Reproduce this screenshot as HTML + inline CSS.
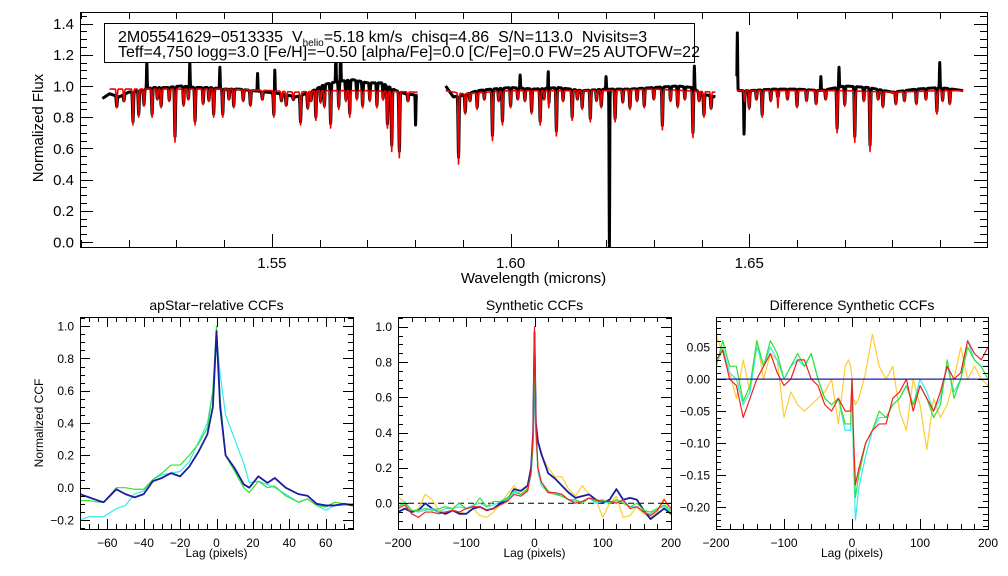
<!DOCTYPE html>
<html><head><meta charset="utf-8"><style>
html,body{margin:0;padding:0;background:#fff}
svg{display:block}
text{font-family:"Liberation Sans",Arial,sans-serif;fill:#000}
</style></head><body>
<svg id="fig" xmlns="http://www.w3.org/2000/svg" width="1008" height="576" viewBox="0 0 1008 576">
<rect width="1008" height="576" fill="#fff"/>
<g id="g-top"></g>
<g id="g-p1"></g>
<g id="g-p2"></g>
<g id="g-p3"></g>
<g>
<rect x="104.5" y="23.5" width="590" height="39" fill="#fff" stroke="#000" stroke-width="1"/>
<text x="118" y="42" font-size="16" xml:space="preserve">2M05541629−0513335  V<tspan font-size="10" dy="4">helio</tspan><tspan dy="-4">=5.18 km/s  chisq=4.86  S/N=113.0  Nvisits=3</tspan></text>
<text x="118" y="57" font-size="16" xml:space="preserve">Teff=4,750 logg=3.0 [Fe/H]=−0.50 [alpha/Fe]=0.0 [C/Fe]=0.0 FW=25 AUTOFW=22</text>
</g>
</svg>
<script>
// ---- Spectrum data ----
const blackSeg1W=[1.5145,1.516,1.518,1.520,1.522,1.525,1.528,1.531,1.534,1.537,1.540,1.543,1.546,1.549,1.552,1.555,1.558,1.561,1.564,1.567,1.570,1.573,1.576,1.578,1.5805];
const blackSeg1F=[0.92,0.95,0.93,0.96,0.97,0.99,0.99,1.00,0.99,0.99,0.98,0.98,0.97,0.96,0.95,0.93,0.96,1.01,1.03,1.04,1.02,1.02,0.97,0.95,0.94];
const blackSeg2W=[1.5864,1.588,1.590,1.593,1.596,1.600,1.605,1.610,1.615,1.620,1.625,1.630,1.635,1.638,1.640,1.6429];
const blackSeg2F=[1.00,0.93,0.94,0.97,0.98,0.99,0.98,0.99,0.97,0.98,0.98,0.99,1.00,0.99,0.95,0.93];
const blackSeg3W=[1.6474,1.650,1.655,1.660,1.665,1.670,1.675,1.680,1.685,1.690,1.6948];
const blackSeg3F=[0.97,0.97,0.98,0.98,0.97,1.00,0.99,0.96,0.98,0.99,0.97];
const redSeg1W=[1.516,1.520,1.530,1.540,1.550,1.555,1.560,1.570,1.5805];
const redSeg1F=[0.98,0.98,0.98,0.98,0.97,0.96,0.97,0.97,0.96];
const redSeg2W=[1.5864,1.590,1.600,1.610,1.620,1.630,1.6429];
const redSeg2F=[0.97,0.95,0.97,0.97,0.97,0.98,0.96];
const redSeg3W=[1.6474,1.660,1.670,1.680,1.690,1.6948];
const redSeg3F=[0.97,0.97,0.97,0.96,0.97,0.97];
const lineW=[1.5209,1.5221,1.5249,1.5297,1.5339,1.5378,1.5397,1.5504,1.5560,1.5592,1.5623,1.5663,1.5742,1.5751,1.5767,1.5891,1.5962,1.5983,1.6044,1.6062,1.6096,1.6129,1.6167,1.6219,1.6318,1.6382,1.6405,1.6527,1.6684,1.6721,1.6753,1.6807,1.6893,
 1.5175,1.5232,1.5268,1.5315,1.5356,1.5420,1.5455,1.5530,1.5575,1.5610,1.5640,1.5690,1.5720,1.5905,1.5930,1.6000,1.6080,1.6150,1.6190,1.6250,1.6280,1.6350,1.6420,1.6500,1.6560,1.6600,1.6640,1.6700,1.6780,1.6850,1.6920,
 1.5190,1.5260,1.5285,1.5325,1.5368,1.5410,1.5440,1.5480,1.5520,1.5545,1.5582,1.5602,1.5655,1.5678,1.5705,1.5733,1.5785,1.5915,1.5945,1.5975,1.6015,1.6030,1.6070,1.6110,1.6140,1.6180,1.6235,1.6265,1.6300,1.6335,1.6365,1.6395,1.6490,1.6515,1.6545,1.6580,1.6620,1.6660,1.6740,1.6770,1.6825,1.6870,1.6905];
const lineF=[0.75,0.80,0.80,0.64,0.75,0.80,0.80,0.80,0.75,0.78,0.73,0.80,0.73,0.58,0.54,0.50,0.65,0.75,0.82,0.75,0.68,0.78,0.77,0.77,0.72,0.67,0.80,0.80,0.70,0.64,0.58,0.88,0.82,
 0.86,0.87,0.86,0.87,0.88,0.86,0.87,0.87,0.85,0.86,0.85,0.86,0.86,0.82,0.85,0.86,0.86,0.85,0.86,0.85,0.86,0.86,0.85,0.85,0.86,0.86,0.88,0.87,0.86,0.88,0.88,
 0.90,0.91,0.90,0.91,0.90,0.91,0.90,0.91,0.90,0.91,0.90,0.89,0.90,0.91,0.90,0.91,0.90,0.90,0.91,0.90,0.91,0.90,0.91,0.90,0.91,0.90,0.89,0.90,0.91,0.90,0.91,0.90,0.90,0.91,0.90,0.91,0.90,0.91,0.90,0.91,0.90,0.91,0.90];
const spikeW=[1.5238,1.5328,1.5391,1.5506,1.5634,1.5644,1.6079,1.6385,1.6475,1.6688,1.6899,1.5470,1.6020,1.6200,1.6560,1.6650];
const spikeF=[1.16,1.16,1.12,1.12,1.20,1.27,1.16,1.13,1.34,1.12,1.15,1.08,1.07,1.06,1.06,1.06];
const deepW=[1.6207,1.5801,1.6489];
const deepF=[-0.05,0.75,0.73];
const topXTicks=[1.55,1.60,1.65];
const topYTicks=[0.0,0.2,0.4,0.6,0.8,1.0,1.2,1.4];

// ---- CCF data ----
const lags1=[-75,-70,-65,-62,-55,-50,-45,-40,-35,-30,-25,-20,-15,-10,-5,-2,0,2,5,10,15,18,23,28,32,38,45,50,55,60,65,70,75];
const ccfNavy1=[-0.04,-0.06,-0.08,-0.09,-0.01,-0.04,-0.06,-0.04,0.04,0.06,0.09,0.07,0.13,0.22,0.33,0.50,0.97,0.50,0.20,0.12,0.02,0.00,0.07,0.03,0.06,0.00,-0.04,-0.05,-0.10,-0.11,-0.11,-0.10,-0.11];
const ccfGreen1=[-0.08,-0.08,-0.09,-0.09,0.00,0.00,-0.01,-0.01,0.05,0.09,0.14,0.14,0.20,0.27,0.37,0.60,1.00,0.55,0.20,0.10,0.00,-0.03,0.04,0.00,0.01,-0.05,-0.09,-0.07,-0.11,-0.12,-0.09,-0.10,-0.10];
const ccfCyan1=[-0.20,-0.18,-0.18,-0.18,-0.13,-0.11,-0.04,-0.02,0.05,0.08,0.09,0.10,0.16,0.28,0.40,0.60,0.95,0.70,0.45,0.30,0.15,0.03,0.04,0.02,0.00,-0.04,-0.09,-0.07,-0.11,-0.14,-0.11,-0.11,-0.10];
const lags2=[-200,-190,-180,-170,-160,-150,-140,-130,-120,-110,-100,-90,-80,-70,-60,-50,-40,-30,-20,-10,-5,-2,0,2,5,10,20,30,40,50,60,70,80,90,100,110,120,130,140,150,160,170,180,190,200];
const synNavy=[-0.05,-0.03,-0.05,-0.04,0.00,-0.03,-0.05,-0.06,-0.04,-0.06,-0.06,-0.03,-0.02,-0.04,-0.03,0.00,0.02,0.08,0.07,0.10,0.20,0.40,0.97,0.45,0.35,0.28,0.17,0.14,0.10,0.06,0.03,0.04,0.05,0.02,0.00,0.02,0.08,0.02,0.03,0.02,-0.04,-0.09,-0.06,-0.03,-0.06];
const synGreen=[-0.02,0.00,-0.04,-0.04,-0.03,-0.04,-0.03,-0.02,-0.03,0.00,-0.03,-0.02,0.03,-0.02,0.01,0.01,0.03,0.07,0.05,0.08,0.17,0.35,0.90,0.40,0.20,0.12,0.07,0.05,0.04,0.02,0.02,0.00,0.03,0.01,0.02,0.00,0.02,0.00,-0.02,0.00,-0.04,-0.05,-0.03,-0.01,-0.04];
const synCyan=[-0.02,0.01,-0.04,-0.05,-0.04,-0.03,-0.05,-0.03,-0.03,-0.02,-0.03,-0.01,0.00,-0.02,-0.01,0.01,0.02,0.06,0.05,0.08,0.16,0.33,0.92,0.40,0.18,0.10,0.06,0.05,0.05,0.02,0.01,0.00,0.03,0.00,0.01,0.00,0.01,0.01,-0.02,-0.02,-0.05,-0.06,-0.03,-0.02,-0.05];
const synRed=[-0.03,-0.01,-0.06,-0.08,-0.05,-0.05,-0.06,-0.05,-0.04,-0.05,-0.03,-0.02,-0.02,-0.04,-0.03,-0.01,0.01,0.05,0.04,0.07,0.18,0.40,1.00,0.45,0.20,0.12,0.06,0.06,0.05,0.02,0.00,0.01,0.03,0.02,0.01,0.01,0.00,0.02,-0.03,-0.02,-0.05,-0.07,-0.04,0.02,-0.03];
const synGold=[0.04,0.00,-0.05,-0.03,0.05,0.02,-0.04,-0.05,-0.04,-0.05,-0.06,-0.03,-0.07,-0.08,-0.05,0.00,0.05,0.10,0.05,0.09,0.20,0.40,0.98,0.50,0.35,0.27,0.20,0.15,0.15,0.08,0.04,0.10,0.05,0.02,-0.08,0.00,0.04,-0.08,-0.07,-0.02,-0.06,-0.08,-0.05,0.03,-0.07];
const difNavy=[0,0,0,0,0,0,0,0,0,0,0,0,0,0,0,0,0,0,0,0,0,0,0,0,0,0,0,0,0,0,0,0,0,0,0,0,0,0,0,0,0,0,0,0,0];
const difRed=[0.03,0.045,0.00,-0.01,-0.06,-0.03,0.00,0.02,0.04,0.01,-0.01,0.00,0.03,0.03,0.00,-0.01,-0.04,-0.05,-0.03,-0.05,-0.05,-0.05,0.00,-0.08,-0.165,-0.14,-0.10,-0.08,-0.07,-0.07,-0.03,-0.02,0.00,-0.05,-0.01,-0.03,-0.05,-0.02,0.02,0.00,0.01,0.06,0.04,0.03,0.05];
const difGreen=[0.02,0.06,0.02,0.02,-0.035,-0.01,0.06,0.02,0.06,0.04,0.00,0.02,0.04,0.02,0.04,0.00,-0.03,-0.04,-0.03,-0.07,-0.07,-0.07,0.00,-0.10,-0.185,-0.15,-0.10,-0.08,-0.05,-0.06,-0.04,-0.03,-0.01,-0.04,-0.01,-0.03,-0.06,-0.04,0.03,-0.03,0.00,0.05,0.03,0.02,0.00];
const difCyan=[0.02,0.05,0.01,0.00,-0.04,-0.02,0.05,0.02,0.05,0.03,0.00,0.02,0.03,0.02,0.04,0.00,-0.03,-0.04,-0.03,-0.08,-0.08,-0.08,0.00,-0.12,-0.22,-0.17,-0.12,-0.08,-0.06,-0.06,-0.04,-0.03,-0.01,-0.04,0.00,-0.02,-0.05,-0.03,0.02,-0.02,0.00,0.06,0.03,0.02,0.02];
const difGold=[0.07,0.04,0.01,-0.03,0.03,-0.02,0.06,0.00,0.04,0.03,-0.06,-0.02,-0.04,-0.05,-0.04,-0.03,-0.02,0.00,-0.07,0.02,0.03,0.02,0.00,-0.03,-0.04,-0.03,0.01,0.07,0.02,0.00,0.02,-0.05,-0.08,0.00,-0.04,-0.11,-0.03,-0.06,-0.04,0.00,0.05,0.00,0.02,0.00,-0.01];

const NS="http://www.w3.org/2000/svg";
function mk(parent,tag,attrs){const e=document.createElementNS(NS,tag);for(const k in attrs)e.setAttribute(k,attrs[k]);parent.appendChild(e);return e;}
function scale(d0,d1,r0,r1){return v=>r0+(v-d0)/(d1-d0)*(r1-r0);}

function axes(g,P,xs,ys,xMaj,xMin,yMaj,yMin,xFmt,yFmt,fs,majLen,minLen){
  const frame=mk(g,'rect',{x:P.l+0.5,y:P.t+0.5,width:P.r-P.l,height:P.b-P.t,fill:'none',stroke:'#000','stroke-width':1});
  
  
  let d='';
  for(let v=Math.ceil(P.x0/xMin-1e-6)*xMin;v<=P.x1+1e-9;v+=xMin){const X=Math.round(xs(v))+0.5;const isMaj=Math.abs(v/xMaj-Math.round(v/xMaj))<1e-6;const L=isMaj?majLen:minLen;d+=`M${X},${P.b}v${-L}M${X},${P.t}v${L}`;}
  for(let v=Math.ceil(P.y0/yMin-1e-6)*yMin;v<=P.y1+1e-9;v+=yMin){const Y=Math.round(ys(v))+0.5;const isMaj=Math.abs(v/yMaj-Math.round(v/yMaj))<1e-6;const L=isMaj?majLen:minLen;d+=`M${P.l},${Y}h${L}M${P.r},${Y}h${-L}`;}
  const t=mk(g,'path',{d:d,stroke:'#000','stroke-width':1,fill:'none'});
  
  
  P.xTicks.forEach(v=>{const e=mk(g,'text',{x:xs(v),y:P.b+fs+6,'font-size':fs,'text-anchor':'middle'});e.textContent=xFmt(v);
    
    });
  P.yTicks.forEach(v=>{const e=mk(g,'text',{x:P.l-6,y:ys(v)+fs*0.36,'font-size':fs,'text-anchor':'end'});e.textContent=yFmt(v);
    
    });
}
function pline(g,xsArr,ysArr,xs,ys,color,w,name,dash){
  let d='';for(let i=0;i<Math.min(xsArr.length,ysArr.length);i++){d+=(i?'L':'M')+xs(xsArr[i]).toFixed(2)+','+ys(ysArr[i]).toFixed(2);}
  const a={d:d,stroke:color,'stroke-width':w,fill:'none','stroke-linejoin':'round'};if(dash)a['stroke-dasharray']=dash;
  const e=mk(g,'path',a);
  
  
  return e;
}
function interp(W,F,w){if(w<=W[0])return F[0];for(let i=1;i<W.length;i++){if(w<=W[i]){const t=(w-W[i-1])/(W[i]-W[i-1]);return F[i-1]+t*(F[i]-F[i-1]);}}return F[F.length-1];}
function synth(W,F,scaleDepth,withSpikes){
  const xw=[],yf=[];
  for(let w=W[0];w<=W[W.length-1]+1e-9;w+=0.00005){
    const c=interp(W,F,w);let f=c;
    for(let i=0;i<lineW.length;i++){const dd=(w-lineW[i])/0.0001;if(Math.abs(dd)<4)f-=(c-lineF[i])*scaleDepth*Math.exp(-dd*dd/2);}
    if(withSpikes){
      for(let i=0;i<spikeW.length;i++){const dd=(w-spikeW[i])/0.00006;if(Math.abs(dd)<4)f+=(spikeF[i]-c)*Math.exp(-dd*dd/2);}
      for(let i=0;i<deepW.length;i++){const dd=(w-deepW[i])/0.00006;if(Math.abs(dd)<4)f-=(c-deepF[i])*Math.exp(-dd*dd/2);}
    }
    xw.push(w);yf.push(f);
  }
  return [xw,yf];
}

// ---- Top panel ----
(function(){
  const g=document.getElementById('g-top');
  const P={l:80,r:987,t:12,b:247,x0:1.5098,x1:1.6998,y0:-0.032,y1:1.474,xTicks:topXTicks,yTicks:topYTicks};
  const xs=scale(P.x0,P.x1,P.l,P.r), ys=scale(P.y0,P.y1,P.b,P.t);
  const clip=mk(g,'clipPath',{id:'ctop'});mk(clip,'rect',{x:P.l,y:P.t,width:P.r-P.l,height:P.b-P.t});
  const dg=mk(g,'g',{'clip-path':'url(#ctop)'});
  [[blackSeg1W,blackSeg1F],[blackSeg2W,blackSeg2F],[blackSeg3W,blackSeg3F]].forEach(s=>{const r=synth(s[0],s[1],0.9,true);pline(dg,r[0],r[1],xs,ys,'#000',3,'observed-spectrum');});
  [[redSeg1W,redSeg1F],[redSeg2W,redSeg2F],[redSeg3W,redSeg3F]].forEach(s=>{const r=synth(s[0],s[1],1.0,false);pline(dg,r[0],r[1],xs,ys,'#ee0000',1.6,'model-spectrum');});
  axes(g,P,xs,ys,0.05,0.01,0.2,0.05,v=>v.toFixed(2),v=>v.toFixed(1),15,13,7);
  const xt=mk(g,'text',{x:(P.l+P.r)/2,y:283,'font-size':15,'text-anchor':'middle'});xt.textContent='Wavelength (microns)';
  
  
  const yt=mk(g,'text',{x:0,y:0,'font-size':15,'text-anchor':'middle',transform:'translate(43,128) rotate(-90)'});yt.textContent='Normalized Flux';
  
  
})();

// ---- bottom panels ----
function panel(id,P,title,series,xMaj,xMin,yMaj,yMin,yFmt,ylabel,zeroLine){
  const g=document.getElementById(id);
  const xs=scale(P.x0,P.x1,P.l,P.r), ys=scale(P.y0,P.y1,P.b,P.t);
  const clip=mk(g,'clipPath',{id:'c'+id});mk(clip,'rect',{x:P.l,y:P.t,width:P.r-P.l,height:P.b-P.t});
  const dg=mk(g,'g',{'clip-path':'url(#c'+id+')'});
  if(zeroLine){pline(dg,[P.x0,P.x1],[0,0],xs,ys,'#000',1,'zero-line','6,4');}
  series.forEach(s=>pline(dg,s.x,s.y,xs,ys,s.c,s.w||1.2,s.n));
  axes(g,P,xs,ys,xMaj,xMin,yMaj,yMin,v=>String(Math.round(v)).replace('-','−'),yFmt,12,10,5);
  const tt=mk(g,'text',{x:(P.l+P.r)/2,y:310,'font-size':14,'text-anchor':'middle'});tt.textContent=title;
  
  
  const xt=mk(g,'text',{x:(P.l+P.r)/2,y:557,'font-size':12,'text-anchor':'middle'});xt.textContent='Lag (pixels)';
  
  
  if(ylabel){const yt=mk(g,'text',{x:0,y:0,'font-size':12,'text-anchor':'middle',transform:'translate(43,423) rotate(-90)'});yt.textContent=ylabel;
    
    }
}
const NAVY='#1c1ca0',GREEN='#33e033',CYAN='#33eaea',RED='#ee2222',GOLD='#ffcc33';
const f1=v=>v.toFixed(1).replace('-','−');
panel('g-p1',{l:80,r:353,t:317,b:529,x0:-75,x1:75,y0:-0.256,y1:1.057,xTicks:[-60,-40,-20,0,20,40,60],yTicks:[-0.2,0,0.2,0.4,0.6,0.8,1.0]},
 'apStar−relative CCFs',[{x:lags1,y:ccfCyan1,c:CYAN,n:'ccf-visit-cyan'},{x:lags1,y:ccfGreen1,c:GREEN,n:'ccf-visit-green'},{x:lags1,y:ccfNavy1,c:NAVY,w:1.8,n:'ccf-combined-navy'}],
 20,5,0.2,0.05,f1,'Normalized CCF',false);
panel('g-p2',{l:398,r:671,t:317,b:529,x0:-200,x1:200,y0:-0.146,y1:1.055,xTicks:[-200,-100,0,100,200],yTicks:[0,0.2,0.4,0.6,0.8,1.0]},
 'Synthetic CCFs',[{x:lags2,y:synGold,c:GOLD,n:'syn-ccf-gold'},{x:lags2,y:synNavy,c:NAVY,w:1.8,n:'syn-ccf-navy'},{x:lags2,y:synCyan,c:CYAN,n:'syn-ccf-cyan'},{x:lags2,y:synGreen,c:GREEN,n:'syn-ccf-green'},{x:lags2,y:synRed,c:RED,n:'syn-ccf-red'}],
 100,20,0.2,0.05,f1,null,true);
panel('g-p3',{l:716,r:988,t:317,b:529,x0:-200,x1:200,y0:-0.234,y1:0.097,xTicks:[-200,-100,0,100,200],yTicks:[-0.2,-0.15,-0.1,-0.05,0,0.05]},
 'Difference Synthetic CCFs',[{x:lags2,y:difGold,c:GOLD,n:'diff-ccf-gold'},{x:lags2,y:difCyan,c:CYAN,n:'diff-ccf-cyan'},{x:lags2,y:difGreen,c:GREEN,n:'diff-ccf-green'},{x:lags2,y:difRed,c:RED,n:'diff-ccf-red'},{x:lags2,y:difNavy,c:NAVY,n:'diff-ccf-navy'}],
 100,20,0.05,0.01,v=>v.toFixed(2).replace('-','−'),null,false);
</script>
</body></html>
